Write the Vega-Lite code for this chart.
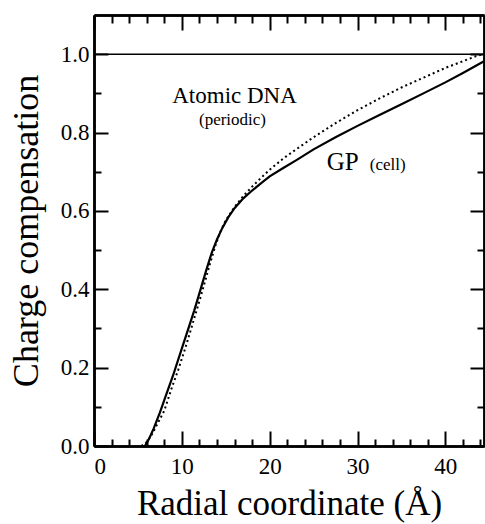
{
  "$schema": "https://vega.github.io/schema/vega-lite/v6.json",
  "autosize": {"type": "none"},
  "width": 390,
  "height": 431,
  "padding": {"left": 94, "top": 15, "right": 1, "bottom": 78},
  "resolve": {"axis": {"x": "independent", "y": "independent"}},
  "layer": [
    {
      "data": {"values": [
        {"x": 5.8, "y": 0}, {"x": 6.3, "y": 0.02}, {"x": 6.8, "y": 0.045}, {"x": 7.5, "y": 0.085},
        {"x": 8.2, "y": 0.13}, {"x": 9.0, "y": 0.18}, {"x": 9.8, "y": 0.235}, {"x": 10.6, "y": 0.29},
        {"x": 11.4, "y": 0.345}, {"x": 12.2, "y": 0.405}, {"x": 12.8, "y": 0.45}, {"x": 13.4, "y": 0.493},
        {"x": 14.0, "y": 0.527}, {"x": 14.6, "y": 0.556}, {"x": 15.3, "y": 0.584}, {"x": 16.0, "y": 0.607},
        {"x": 17.0, "y": 0.632}, {"x": 18.0, "y": 0.652}, {"x": 19.0, "y": 0.670}, {"x": 20.0, "y": 0.688},
        {"x": 21.5, "y": 0.709}, {"x": 23.0, "y": 0.729}, {"x": 25.0, "y": 0.757}, {"x": 27.5, "y": 0.788},
        {"x": 30.0, "y": 0.817}, {"x": 32.5, "y": 0.845}, {"x": 35.0, "y": 0.872}, {"x": 37.5, "y": 0.9},
        {"x": 40.0, "y": 0.928}, {"x": 42.0, "y": 0.952}, {"x": 44.4, "y": 0.982}
      ]},
      "mark": {"type": "line", "color": "black", "strokeWidth": 2.2},
      "encoding": {
        "x": {"field": "x", "type": "quantitative",
          "scale": {"domain": [0, 44.4], "nice": false, "zero": false},
          "axis": {"orient": "bottom", "grid": false, "domainColor": "black", "domainWidth": 2.5,
            "title": "Radial coordinate (Å)", "titleFont": "Liberation Serif", "titleFontSize": 35,
            "titleFontWeight": "normal", "titleColor": "black", "titlePadding": 8,
            "values": [0, 10, 20, 30, 40],
            "labelFont": "Liberation Serif", "labelFontSize": 23, "labelColor": "black", "labelPadding": 24,
            "tickSize": -15, "tickColor": "black", "tickWidth": 2}},
        "y": {"field": "y", "type": "quantitative",
          "scale": {"domain": [0, 1.1], "nice": false, "zero": false},
          "axis": {"orient": "left", "grid": false, "domainColor": "black", "domainWidth": 2.5,
            "title": "Charge compensation", "titleFont": "Liberation Serif", "titleFontSize": 36,
            "titleFontWeight": "normal", "titleColor": "black", "titlePadding": 15,
            "values": [0, 0.2, 0.4, 0.6, 0.8, 1.0],
            "labelFont": "Liberation Serif", "labelFontSize": 23, "labelColor": "black", "labelPadding": 19,
            "tickSize": -14, "tickColor": "black", "tickWidth": 2}}
      }
    },
    {
      "data": {"values": [
        {"x": 5.4, "y": 0}, {"x": 6.0, "y": 0.01}, {"x": 6.6, "y": 0.03}, {"x": 7.3, "y": 0.06},
        {"x": 8.0, "y": 0.09}, {"x": 8.8, "y": 0.145}, {"x": 9.6, "y": 0.195}, {"x": 10.4, "y": 0.25},
        {"x": 11.2, "y": 0.31}, {"x": 12.0, "y": 0.37}, {"x": 12.7, "y": 0.425}, {"x": 13.2, "y": 0.465},
        {"x": 13.8, "y": 0.51}, {"x": 14.4, "y": 0.548}, {"x": 15.0, "y": 0.576}, {"x": 16.0, "y": 0.61},
        {"x": 17.0, "y": 0.638}, {"x": 18.0, "y": 0.662}, {"x": 19.0, "y": 0.684}, {"x": 20.0, "y": 0.705},
        {"x": 21.5, "y": 0.733}, {"x": 23.0, "y": 0.757}, {"x": 25.0, "y": 0.788}, {"x": 27.5, "y": 0.824},
        {"x": 30.0, "y": 0.857}, {"x": 32.5, "y": 0.887}, {"x": 35.0, "y": 0.915}, {"x": 37.5, "y": 0.94},
        {"x": 40.0, "y": 0.965}, {"x": 42.0, "y": 0.982}, {"x": 43.5, "y": 0.995}, {"x": 44.4, "y": 1.0}
      ]},
      "mark": {"type": "line", "color": "black", "strokeWidth": 2, "strokeDash": [2, 3]},
      "encoding": {
        "x": {"field": "x", "type": "quantitative",
          "scale": {"domain": [0, 44.4], "nice": false, "zero": false},
          "axis": {"orient": "top", "grid": false, "domainColor": "black", "domainWidth": 2.5,
            "title": null, "labels": false,
            "values": [0, 10, 20, 30, 40], "tickSize": -15, "tickColor": "black", "tickWidth": 2}},
        "y": {"field": "y", "type": "quantitative",
          "scale": {"domain": [0, 1.1], "nice": false, "zero": false},
          "axis": {"orient": "right", "grid": false, "domainColor": "black", "domainWidth": 2.5,
            "title": null, "labels": false,
            "values": [0, 0.2, 0.4, 0.6, 0.8, 1.0], "tickSize": -14, "tickColor": "black", "tickWidth": 2}}
      }
    },
    {
      "data": {"values": [{}]},
      "mark": {"type": "rule", "color": "black", "strokeWidth": 1.6},
      "encoding": {"y": {"datum": 1.0, "type": "quantitative", "axis": null}}
    },
    {
      "data": {"values": [{}]},
      "mark": {"type": "text", "font": "Liberation Serif", "fontSize": 23, "align": "center", "baseline": "alphabetic", "color": "black", "text": "Atomic DNA"},
      "encoding": {
        "x": {"datum": 16.0, "type": "quantitative",
          "axis": {"orient": "bottom", "grid": false, "domainColor": "black", "domainWidth": 2.5,
            "title": null, "labels": false,
            "values": [2, 4, 6, 8, 12, 14, 16, 18, 22, 24, 26, 28, 32, 34, 36, 38, 42, 44],
            "tickSize": -7, "tickColor": "black", "tickWidth": 2}},
        "y": {"datum": 0.875, "type": "quantitative",
          "axis": {"orient": "left", "grid": false, "domainColor": "black", "domainWidth": 2.5,
            "title": null, "labels": false,
            "values": [0.1, 0.3, 0.5, 0.7, 0.9],
            "tickSize": -7, "tickColor": "black", "tickWidth": 2}}
      }
    },
    {
      "data": {"values": [{}]},
      "mark": {"type": "text", "font": "Liberation Serif", "fontSize": 17, "align": "center", "baseline": "alphabetic", "color": "black", "text": "(periodic)"},
      "encoding": {
        "x": {"datum": 15.77, "type": "quantitative",
          "axis": {"orient": "top", "grid": false, "domainColor": "black", "domainWidth": 2.5,
            "title": null, "labels": false,
            "values": [2, 4, 6, 8, 12, 14, 16, 18, 22, 24, 26, 28, 32, 34, 36, 38, 42, 44],
            "tickSize": -8, "tickColor": "black", "tickWidth": 2}},
        "y": {"datum": 0.819, "type": "quantitative",
          "axis": {"orient": "right", "grid": false, "domainColor": "black", "domainWidth": 2.5,
            "title": null, "labels": false,
            "values": [0.1, 0.3, 0.5, 0.7, 0.9],
            "tickSize": -7, "tickColor": "black", "tickWidth": 2}}
      }
    },
    {
      "data": {"values": [{}]},
      "mark": {"type": "text", "font": "Liberation Serif", "fontSize": 25, "align": "left", "baseline": "alphabetic", "color": "black", "text": "GP"},
      "encoding": {"x": {"datum": 26.5, "type": "quantitative", "axis": null}, "y": {"datum": 0.705, "type": "quantitative", "axis": null}}
    },
    {
      "data": {"values": [{}]},
      "mark": {"type": "text", "font": "Liberation Serif", "fontSize": 17, "align": "left", "baseline": "alphabetic", "color": "black", "text": "(cell)"},
      "encoding": {"x": {"datum": 31.4, "type": "quantitative", "axis": null}, "y": {"datum": 0.705, "type": "quantitative", "axis": null}}
    }
  ]
}
